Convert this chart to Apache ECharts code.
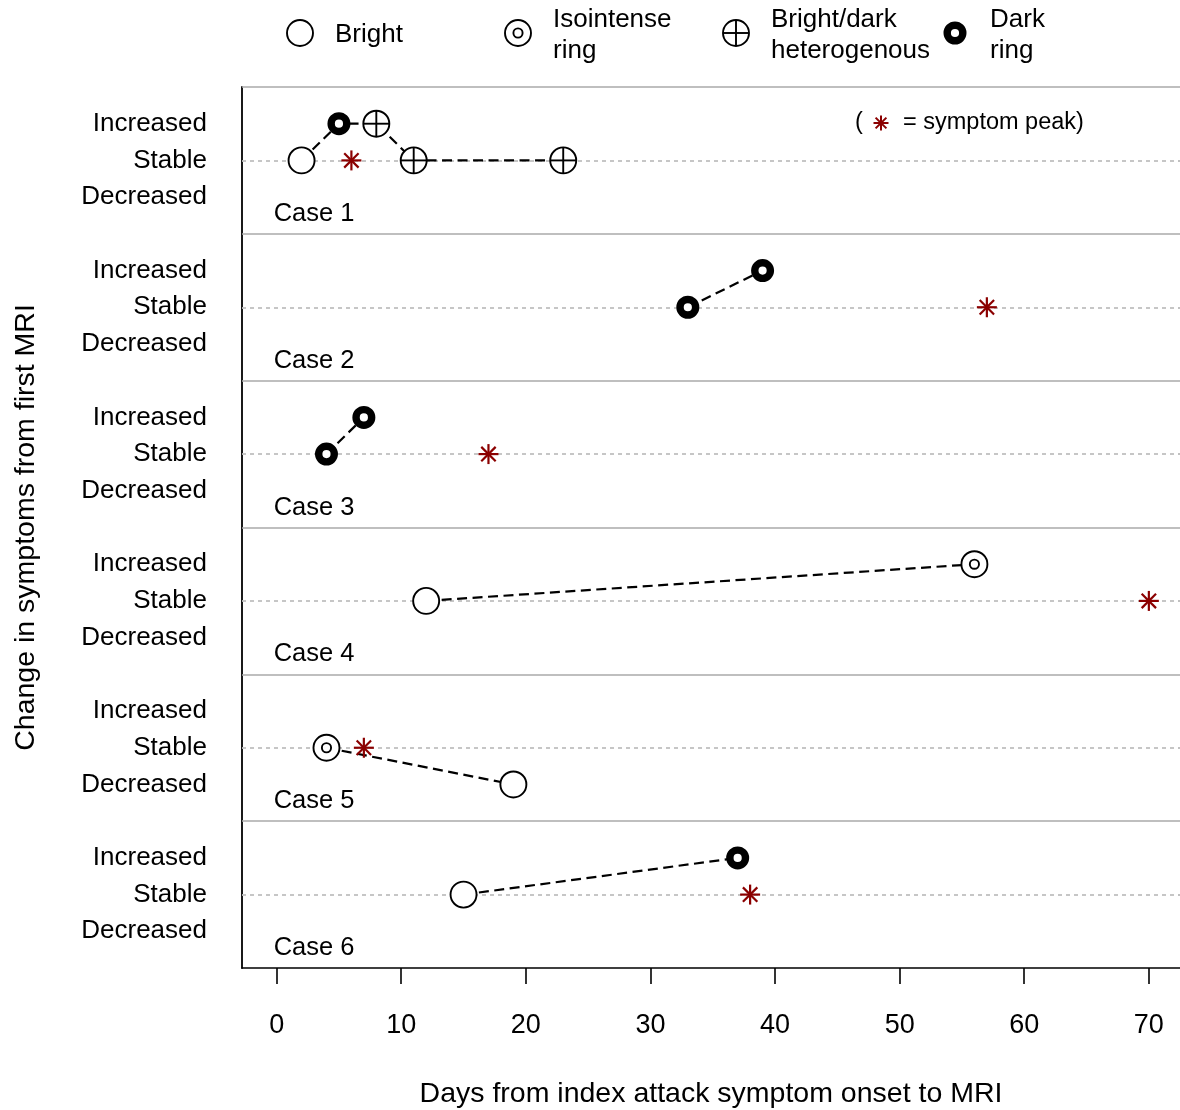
<!DOCTYPE html>
<html><head><meta charset="utf-8">
<script src="https://cdn.jsdelivr.net/npm/echarts@6/dist/echarts.min.js"></script>
<style>html,body{margin:0;padding:0;background:#fff}#c{width:1180px;height:1110px}</style>
</head><body><div id="c"></div>
<script>
// ---------- data ----------
const caseNames = ['Case 1', 'Case 2', 'Case 3', 'Case 4', 'Case 5', 'Case 6'];
const changeLevels = ['Decreased', 'Stable', 'Increased'];
const lesionTypes = ['Bright', 'Isointense ring', 'Bright/dark heterogenous', 'Dark ring'];
const legendLabels = ['Bright', 'Isointense\nring', 'Bright/dark\nheterogenous', 'Dark\nring'];
const scanDays = [[2, 5, 8, 11, 23], [33, 39], [4, 7], [12, 56], [4, 19], [15, 37]];
const scanChange = [
  ['Stable', 'Increased', 'Increased', 'Stable', 'Stable'],
  ['Stable', 'Increased'],
  ['Stable', 'Increased'],
  ['Stable', 'Increased'],
  ['Stable', 'Decreased'],
  ['Stable', 'Increased']
];
const scanType = [
  ['Bright', 'Dark ring', 'Bright/dark heterogenous', 'Bright/dark heterogenous', 'Bright/dark heterogenous'],
  ['Dark ring', 'Dark ring'],
  ['Dark ring', 'Dark ring'],
  ['Bright', 'Isointense ring'],
  ['Isointense ring', 'Bright'],
  ['Bright', 'Dark ring']
];
const peakDays = [6, 57, 17, 70, 7, 38];
const xTicks = [0, 10, 20, 30, 40, 50, 60, 70];

// ---------- helpers ----------
const FONT = "'Liberation Sans', Arial, Helvetica, sans-serif";
const nCases = caseNames.length;
const panelH = 4;
const baseOf = i => (nCases - 1 - i) * panelH;
const yOf = (i, ch) => baseOf(i) + 1 + changeLevels.indexOf(ch);
const PEAK_COLOR = '#8b0000';

function markerShapes(t, x, y) {
  const lw = 1.9, R = 13;
  const outer = {type: 'circle', shape: {cx: x, cy: y, r: R}, style: {fill: '#fff', stroke: '#000', lineWidth: lw}};
  if (t === 0) return [outer];
  if (t === 1) return [outer, {type: 'circle', shape: {cx: x, cy: y, r: 4.6}, style: {fill: '#fff', stroke: '#000', lineWidth: lw}}];
  if (t === 2) return [outer,
    {type: 'line', shape: {x1: x - R, y1: y, x2: x + R, y2: y}, style: {stroke: '#000', lineWidth: lw}},
    {type: 'line', shape: {x1: x, y1: y - R, x2: x, y2: y + R}, style: {stroke: '#000', lineWidth: lw}}];
  return [{type: 'circle', shape: {cx: x, cy: y, r: 7.8}, style: {fill: '#fff', stroke: '#000', lineWidth: 7.4}}];
}
function asteriskShapes(x, y, r, w) {
  const d = r * 0.72;
  const st = {stroke: PEAK_COLOR, lineWidth: w};
  return [
    {type: 'line', shape: {x1: x, y1: y - r, x2: x, y2: y + r}, style: st},
    {type: 'line', shape: {x1: x - r, y1: y, x2: x + r, y2: y}, style: st},
    {type: 'line', shape: {x1: x - d, y1: y - d, x2: x + d, y2: y + d}, style: st},
    {type: 'line', shape: {x1: x - d, y1: y + d, x2: x + d, y2: y - d}, style: st}
  ];
}

// ---------- series ----------
const series = [];
const dividerData = [], stableData = [];
for (let i = 0; i < nCases; i++) {
  dividerData.push({yAxis: baseOf(i) + panelH});
  stableData.push({yAxis: yOf(i, 'Stable')});
}
series.push({
  type: 'line', data: [], silent: true, z: 1,
  markLine: {silent: true, z: 1, symbol: 'none', label: {show: false}, animation: false,
    lineStyle: {color: '#aaaaaa', width: 1.6, type: 'solid'}, data: dividerData}
});
series.push({
  type: 'line', data: [], silent: true, z: 1,
  markLine: {silent: true, z: 1, symbol: 'none', label: {show: false}, animation: false,
    lineStyle: {color: '#c0c0c0', width: 1.8, type: [4, 4]}, data: stableData}
});
for (let i = 0; i < nCases; i++) {
  series.push({
    type: 'line', z: 6, symbol: 'none', silent: true, animation: false,
    lineStyle: {color: '#000', width: 2.2, type: [10, 5.5]},
    data: scanDays[i].map((d, j) => [d, yOf(i, scanChange[i][j])])
  });
}
const markerData = [];
for (let i = 0; i < nCases; i++) {
  scanDays[i].forEach((d, j) => markerData.push([d, yOf(i, scanChange[i][j]), lesionTypes.indexOf(scanType[i][j])]));
}
series.push({
  type: 'custom', z: 10, animation: false, silent: true,
  data: markerData,
  renderItem: (params, api) => {
    const p = api.coord([api.value(0), api.value(1)]);
    return {type: 'group', children: markerShapes(api.value(2), p[0], p[1])};
  }
});
series.push({
  type: 'custom', z: 8, animation: false, silent: true,
  data: peakDays.map((d, i) => [d, yOf(i, 'Stable')]),
  renderItem: (params, api) => {
    const p = api.coord([api.value(0), api.value(1)]);
    return {type: 'group', children: asteriskShapes(p[0], p[1], 10, 2.2)};
  }
});
series.push({
  type: 'custom', z: 8, animation: false, silent: true,
  data: caseNames.map((n, i) => [0, baseOf(i), i]),
  renderItem: (params, api) => {
    const p = api.coord([api.value(0), api.value(1)]);
    return {type: 'text', style: {text: caseNames[api.value(2)], x: p[0] - 3, y: p[1] - 20,
      fill: '#000', font: '25.5px ' + FONT, textAlign: 'left', textVerticalAlign: 'middle'}};
  }
});

// ---------- legend (graphic) ----------
const legendX = [300, 518, 736, 955];
const graphic = [];
lesionTypes.forEach((t, k) => {
  graphic.push({type: 'group', children: markerShapes(k, legendX[k], 33)});
  graphic.push({type: 'text', style: {text: legendLabels[k], x: legendX[k] + 35, y: 35,
    fill: '#000', font: '26px ' + FONT, lineHeight: 31, textAlign: 'left', textVerticalAlign: 'middle'}});
});
graphic.push({type: 'text', style: {text: '(', x: 855, y: 123, fill: '#000', font: '23.5px ' + FONT, textVerticalAlign: 'middle'}});
graphic.push({type: 'group', children: asteriskShapes(881, 123, 7.5, 2)});
graphic.push({type: 'text', style: {text: '= symptom peak)', x: 903, y: 123, fill: '#000', font: '23.5px ' + FONT, textVerticalAlign: 'middle'}});

const option = {
  backgroundColor: '#fff',
  animation: false,
  textStyle: {fontFamily: FONT},
  grid: {left: 242, right: 0, top: 87, bottom: 142, containLabel: false, outerBoundsMode: 'none'},
  xAxis: {
    type: 'value', min: -2.78, max: 72.5,
    name: 'Days from index attack symptom onset to MRI',
    nameLocation: 'middle', nameGap: 112,
    nameTextStyle: {fontSize: 28.5, color: '#000', fontFamily: FONT},
    axisLine: {show: true, onZero: false, lineStyle: {color: '#000', width: 1.6}},
    axisTick: {show: true, customValues: xTicks, length: 16, lineStyle: {color: '#000', width: 1.6}},
    axisLabel: {customValues: xTicks, fontSize: 27, color: '#000', margin: 44, fontFamily: FONT},
    splitLine: {show: false}
  },
  yAxis: {
    type: 'value', min: 0, max: nCases * panelH, interval: 1,
    name: 'Change in symptoms from first MRI',
    nameLocation: 'middle', nameGap: 201,
    nameTextStyle: {fontSize: 28.5, color: '#000', fontFamily: FONT},
    axisLine: {show: true, onZero: false, lineStyle: {color: '#000', width: 1.8}},
    axisTick: {show: false},
    axisLabel: {fontSize: 26, color: '#000', margin: 35, fontFamily: FONT,
      formatter: v => (v % panelH === 0 ? '' : changeLevels[(v % panelH) - 1])},
    splitLine: {show: false}
  },
  graphic: graphic,
  series: series
};
const chart = echarts.init(document.getElementById('c'), null, {renderer: 'canvas'});
chart.setOption(option);
</script>
</body></html>
